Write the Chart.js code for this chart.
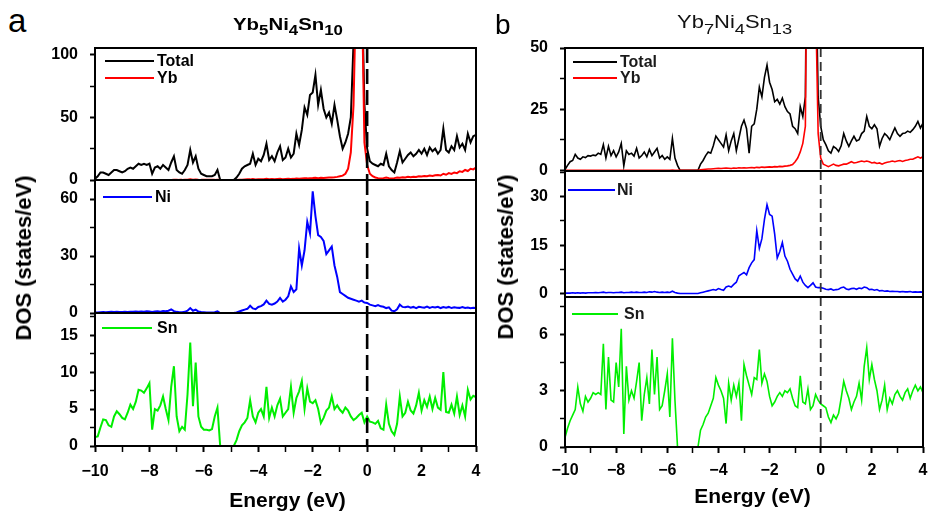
<!DOCTYPE html>
<html>
<head>
<meta charset="utf-8">
<script src="https://cdn.jsdelivr.net/npm/chart.js@4.4.0/dist/chart.umd.min.js"></script>
<style>
  body { margin: 0; background: #fff; width: 929px; height: 511px; position: relative; overflow: hidden;
         font-family: "Liberation Sans", Arial, sans-serif; color: #000; }
  canvas { position: absolute; }
  .txt { position: absolute; white-space: nowrap; line-height: 1; }
  .ln { position: absolute; height: 2px; }
  .lg { position: absolute; white-space: nowrap; line-height: 1; font-weight: bold; font-size: 16px; }
</style>
</head>
<body>
<canvas id="a1"></canvas>
<canvas id="a2"></canvas>
<canvas id="a3"></canvas>
<canvas id="b1"></canvas>
<canvas id="b2"></canvas>
<canvas id="b3"></canvas>

<div class="txt" style="left:8px;top:4px;font-size:33px;">a</div>
<div class="txt" style="left:495px;top:11px;font-size:28px;">b</div>

<div class="txt" style="left:233px;top:15.6px;font-size:17px;font-weight:bold;transform:scaleX(1.2);transform-origin:0 0;">Yb<span style="font-size:14px;vertical-align:-5px;">5</span>Ni<span style="font-size:14px;vertical-align:-5px;">4</span>Sn<span style="font-size:14px;vertical-align:-5px;">10</span></div>
<div class="txt" style="left:677px;top:13px;font-size:18px;color:#111;transform:scaleX(1.22);transform-origin:0 0;">Yb<span style="font-size:15px;vertical-align:-6px;">7</span>Ni<span style="font-size:15px;vertical-align:-6px;">4</span>Sn<span style="font-size:15px;vertical-align:-6px;">13</span></div>

<div class="txt" style="left:23.5px;top:257.5px;font-size:22px;font-weight:bold;transform:translate(-50%,-50%) rotate(-90deg);">DOS (states/eV)</div>
<div class="txt" style="left:506px;top:257px;font-size:22px;font-weight:bold;transform:translate(-50%,-50%) rotate(-90deg);">DOS (states/eV)</div>
<div class="txt" style="left:287.5px;top:489px;font-size:21px;font-weight:bold;transform:translateX(-50%);">Energy (eV)</div>
<div class="txt" style="left:752.5px;top:485px;font-size:21px;font-weight:bold;transform:translateX(-50%);">Energy (eV)</div>

<!-- legends -->
<div class="ln" style="left:105px;top:60px;width:49px;background:#000;"></div>
<div class="lg" style="left:157px;top:53px;">Total</div>
<div class="ln" style="left:105px;top:76.5px;width:49px;background:#ff0000;"></div>
<div class="lg" style="left:157px;top:70px;">Yb</div>
<div class="ln" style="left:103px;top:196px;width:49px;background:#0000ff;"></div>
<div class="lg" style="left:155px;top:189px;">Ni</div>
<div class="ln" style="left:102px;top:326.5px;width:50px;background:#00ee00;"></div>
<div class="lg" style="left:157px;top:320px;">Sn</div>

<div class="ln" style="left:573px;top:61px;width:44px;background:#000;"></div>
<div class="lg" style="left:620px;top:54px;color:#1a1a1a;">Total</div>
<div class="ln" style="left:573px;top:76.5px;width:44px;background:#ff0000;"></div>
<div class="lg" style="left:620px;top:70px;color:#1a1a1a;">Yb</div>
<div class="ln" style="left:568px;top:189px;width:47px;background:#0000ff;"></div>
<div class="lg" style="left:617px;top:182px;color:#1a1a1a;">Ni</div>
<div class="ln" style="left:572px;top:313px;width:46px;background:#00ee00;"></div>
<div class="lg" style="left:624px;top:306px;color:#1a1a1a;">Sn</div>

<script>
// energy grid (eV)
const energy = [
  -10.0,-9.9,-9.8,-9.7,-9.6,-9.5,-9.4,-9.3,-9.2,-9.1,
  -9.0,-8.9,-8.8,-8.7,-8.6,-8.5,-8.4,-8.3,-8.2,-8.1,
  -8.0,-7.9,-7.8,-7.7,-7.6,-7.5,-7.4,-7.3,-7.2,-7.1,
  -7.0,-6.9,-6.8,-6.7,-6.6,-6.5,-6.4,-6.3,-6.2,-6.1,
  -6.0,-5.9,-5.8,-5.7,-5.6,-5.5,-5.4,-5.3,-5.2,-5.1,
  -5.0,-4.9,-4.8,-4.7,-4.6,-4.5,-4.4,-4.3,-4.2,-4.1,
  -4.0,-3.9,-3.8,-3.7,-3.6,-3.5,-3.4,-3.3,-3.2,-3.1,
  -3.0,-2.9,-2.8,-2.7,-2.6,-2.5,-2.4,-2.3,-2.2,-2.1,
  -2.0,-1.9,-1.8,-1.7,-1.6,-1.5,-1.4,-1.3,-1.2,-1.1,
  -1.0,-0.9,-0.8,-0.7,-0.6,-0.5,-0.4,-0.3,-0.2,-0.1,
  0.0,0.1,0.2,0.3,0.4,0.5,0.6,0.7,0.8,0.9,
  1.0,1.1,1.2,1.3,1.4,1.5,1.6,1.7,1.8,1.9,
  2.0,2.1,2.2,2.3,2.4,2.5,2.6,2.7,2.8,2.9,
  3.0,3.1,3.2,3.3,3.4,3.5,3.6,3.7,3.8,3.9,
  4.0
];

// (a) Yb5Ni4Sn10
const totalA = [
  1,3,6,6,5,4,6,8,8,7,
  6,7,9,10,9,11,13,12,13,12,
  13,5,10,11,9,12,10,8,14,19,
  8,6,5,8,12,24,14,19,9,5,
  4,3,3,3,4,8,0,0,0,0,
  0,0,2,5,9,11,12,13,21,12,
  17,15,20,29,16,19,15,22,27,16,
  18,25,18,21,37,28,40,58,52,68,
  70,84,60,72,57,50,54,45,60,48,
  35,25,30,37,50,110,160,160,160,60,
  25,15,13,12,11,13,12,21,11,8,
  6,14,23,14,17,20,22,19,21,24,
  21,25,20,26,23,25,21,24,41,24,
  22,27,24,35,26,29,24,37,30,35,
  36
];
const ybA = [
  0,0,0,0,0,0,0,0,0,0,
  0,0,0,0,0,0,0,0,0,0,
  0,0,0,0,0,0,0,0,0,0.2,
  0.2,0.1,0.1,0.2,0.3,0.5,0.3,0.4,0.2,0.1,
  0.1,0.1,0.1,0.1,0.1,0.2,0,0,0,0,
  0,0,0.1,0.2,0.3,0.4,0.5,0.5,0.7,0.5,
  0.6,0.6,0.7,0.9,0.6,0.7,0.6,0.8,0.9,0.7,
  0.8,0.9,0.8,0.9,1.1,1.0,1.2,1.4,1.3,1.5,
  1.6,1.8,1.5,1.7,1.6,1.8,1.9,2.0,2.2,2.5,
  3,3.5,5,9,22,60,160,160,160,30,
  12,5,3,2,1.5,1.2,1.5,2,1.5,1.2,
  1.5,2,1.8,2.2,2,2.5,2.2,2.6,2.4,3,
  2.8,3.2,3,3.5,3.2,3.8,4,3.6,5,4.2,
  5.5,4.8,6,5.5,7,6.5,8,7.2,9,8.5,
  10
];
const niA = [
  0.3,0.3,0.4,0.5,0.4,0.5,0.6,0.5,0.6,0.5,
  0.5,0.6,0.5,0.7,0.6,0.8,0.7,0.8,0.7,0.9,
  0.8,0.5,0.8,0.9,0.7,1.0,0.9,1.2,1.9,1.0,
  0.6,0.4,0.4,0.6,1.2,2.6,1.2,1.8,0.8,0.5,
  0.4,0.3,0.3,0.3,0.4,0.9,0,0,0,0,
  0,0,0.3,0.8,1.3,1.8,2.2,3.8,2.4,2.0,
  3.2,3.6,4.5,6.5,4.8,4.4,5.0,6.0,7.9,6.0,
  7.0,8.8,14,11,12.5,34,25,33,48,42,
  64,51,41,40,38,31,33,35,25,19,
  11,10,9,8,7.5,7,6.5,6,6.5,5.5,
  5.3,4.4,4,3.6,4.2,3.5,3.3,2.6,3.0,1.2,
  0.9,2.0,4.4,3.2,3.0,3.4,2.8,3.2,2.6,3.3,
  3.0,2.8,3.4,2.7,3.2,2.9,3.3,2.6,3.1,2.8,
  3.2,2.6,3.0,2.8,2.7,3.1,2.6,2.9,2.5,2.7,
  2.6
];
const snA = [
  1.2,1.3,2.5,3.6,3.5,2.8,2.6,4.0,4.7,4.3,
  3.8,3.6,4.5,5.6,5.0,6.0,7.6,7.5,7.2,7.8,
  8.5,2.2,5.0,4.8,5.5,6.7,5.0,3.5,8.0,10.8,
  4.0,2.0,2.6,2.2,7.0,14.0,5.4,11.3,4.0,2.6,
  2.2,2.2,2.1,2.3,4.0,5.2,0,0,0,0,
  0,0,0.8,2.0,2.8,3.2,3.8,6.2,4.0,3.2,
  4.5,5.0,4.0,8.0,3.8,5.2,4.0,5.5,6.4,4.0,
  4.5,5.0,8.0,4.5,6.5,7.4,8.8,5.0,7.8,6.0,
  5.8,6.2,5.0,3.1,3.8,4.8,5.2,6.7,5.0,5.5,
  4.9,4.5,5.2,4.8,4.0,3.5,3.8,4.2,4.5,3.2,
  4.0,3.3,3.2,3.0,3.4,2.4,2.2,5.6,3.0,2.0,
  1.5,3.0,6.7,4.0,4.5,6.0,4.8,4.4,5.5,7.2,
  4.8,6.2,5.3,6.7,5.0,6.5,5.2,4.9,10.0,4.6,
  4.5,5.6,4.4,6.7,4.2,5.5,4.0,7.6,6.3,6.8,
  6.6
];

// (b) Yb7Ni4Sn13
const totalB = [
  0.3,2,3.5,4,6.5,5,4.5,5.5,5.2,6,
  5.8,6.2,6,7,6.5,10.5,5,9.8,6,8,
  5.5,7.5,11,1.8,8,6.5,7,5.8,9,5,
  6,7.5,5.5,8.5,6,7.5,9,5,6,4.5,
  5.5,4.5,13,5,2,0,0,0,0,0,
  0,0,0,2.5,4,6,7.5,7,10,14,
  12.5,11,9.5,14.5,8,12,15,8,13,18,
  20.5,17,7,18,19,25,34,30,38,43,
  36,33,28,29,27,29.5,26,24,23,18,
  17,15,26,22,30,150,150,150,90,30,
  18,12.5,10.5,8,7,9.7,9,7.7,10,15,
  12,9.8,12,13.9,12,12.5,15,16,22,18,
  17,18.6,17,9.8,13,15,14,12.5,15,17.3,
  15,13.9,15,15.2,16,15.5,16.6,18,20,17.3,
  19.3
];
const ybB = [
  0,0,0,0,0,0,0,0,0,0,
  0,0,0,0,0,0,0,0,0,0,
  0,0,0,0,0,0,0,0,0,0,
  0,0,0,0,0,0,0,0,0,0,
  0,0,0.1,0,0,0,0,0,0,0,
  0,0,0,0.2,0.3,0.4,0.5,0.5,0.6,0.7,
  0.8,0.7,0.8,0.9,0.8,0.7,0.9,0.8,1.0,0.9,
  1.0,0.9,1.0,1.1,1.0,1.2,1.1,1.3,1.2,1.3,
  1.4,1.3,1.5,1.4,1.6,1.5,1.7,1.8,2.0,2.3,
  3.5,5,7.5,11,18,150,150,150,70,15,
  5,2.5,2,1.5,2,2.5,2,1.8,2.2,2.5,
  2.5,3,3.5,3,3.2,3.5,3.8,3.5,3.8,3.5,
  3,3.2,2.8,3,2.5,3,3.3,3.5,3.8,3.5,
  3.8,4,3.6,4,4.2,4.5,4.5,5,5.5,5,
  5.5
];
const niB = [
  0.1,0.1,0.1,0.2,0.1,0.2,0.1,0.2,0.1,0.2,
  0.2,0.2,0.3,0.2,0.3,0.4,0.2,0.3,0.3,0.2,
  0.3,0.3,0.4,0.2,0.3,0.3,0.4,0.3,0.4,0.3,
  0.3,0.4,0.3,0.5,0.4,0.6,0.4,0.3,0.4,0.3,
  0.4,0.3,0.7,0.3,0.1,0,0,0,0,0,
  0,0,0,0.2,0.4,0.6,0.8,1.0,1.2,1.0,
  1.5,1.2,1.0,2.0,2.3,2.0,2.8,3.5,5.5,6.0,
  6.5,5.8,8.0,9.5,10.5,19.5,14,17,23,27.5,
  24.5,24,18.4,11,13,15.8,11.6,10,7.5,6,
  4.5,3.8,5.4,3.5,2.5,1.8,2.5,3.3,2.0,1.8,
  1.8,1.6,1.3,1.2,1.4,1.0,1.2,1.3,1.8,2.0,
  1.4,1.2,1.5,1.6,1.3,1.7,1.5,2.0,1.8,1.2,
  1.3,1.0,1.2,0.8,0.9,0.7,0.8,0.6,0.7,0.6,
  0.6,0.5,0.6,0.5,0.5,0.6,0.4,0.5,0.4,0.5,
  0.4
];
const snB = [
  0.5,1.0,1.4,1.7,2.0,3.2,2.3,1.9,2.7,2.4,
  2.6,2.9,2.8,2.9,2.8,5.5,2.0,4.8,2.5,2.4,
  4.5,3.2,6.3,0.7,4.3,2.5,3.0,2.6,3.5,4.5,
  1.4,2.8,3.7,2.3,5.2,2.8,4.8,2.0,2.2,3.0,
  3.9,1.6,5.8,2.5,0,0,0,0,0,0,
  0,0,0,0.9,1.2,1.6,1.8,2.2,2.6,3.7,
  3.3,3.0,2.6,1.25,3.4,2.5,3.3,2.7,3.4,1.4,
  4.4,3.8,3.3,2.8,3.7,3.6,5.2,3.4,3.9,3.5,
  2.7,2.2,2.4,2.7,2.9,2.7,3.0,2.9,3.1,2.6,
  2.2,2.1,3.8,2.4,2.3,3.1,2.0,2.2,2.8,2.5,
  2.3,2.2,2.1,1.6,1.3,1.7,1.5,1.8,2.6,3.5,
  3.0,2.6,2.0,2.4,2.7,3.4,2.5,4.3,5.3,3.6,
  4.4,3.6,3.0,2.0,2.5,3.3,2.0,2.6,2.3,2.8,
  3.0,2.7,2.5,2.9,3.1,2.6,3.0,3.3,3.0,3.2,
  2.9
];

// ticks
const xTicks = [-10,-9,-8,-7,-6,-5,-4,-3,-2,-1,0,1,2,3,4];
const xLabels = [-10,-8,-6,-4,-2,0,2,4];
const yTicksA1 = [0,25,50,75,100],       yLabelsA1 = [0,50,100];
const yTicksA2 = [0,15,30,45,60],        yLabelsA2 = [0,30,60];
const yTicksA3 = [0,2.5,5,7.5,10,12.5,15,17.5], yLabelsA3 = [0,5,10,15];
const yTicksB1 = [0,12.5,25,37.5,50],    yLabelsB1 = [0,25,50];
const yTicksB2 = [0,7.5,15,22.5,30,37.5], yLabelsB2 = [0,15,30];
const yTicksB3 = [0,1.5,3,4.5,6,7.5],    yLabelsB3 = [0,3,6];

const black = '#000000', red = '#ff0000', blue = '#0000ff', green = '#00ee00';
const tickFont = { family: '"Liberation Sans", Arial, sans-serif', weight: 'bold', size: 16 };

function fmt(v) {
  return String(v).replace('-', '\u2212');
}

// frame box + dashed Fermi level line
const framePlugin = {
  id: 'frame',
  afterDatasetsDraw(chart, args, opts) {
    const ctx = chart.ctx, a = chart.chartArea;
    const x0 = chart.scales.x.getPixelForValue(0);
    ctx.save();
    ctx.strokeStyle = opts.dashColor;
    ctx.lineWidth = opts.dashWidth;
    ctx.setLineDash(opts.dash);
    ctx.beginPath();
    ctx.moveTo(x0, a.top);
    ctx.lineTo(x0, a.bottom);
    ctx.stroke();
    ctx.setLineDash([]);
    ctx.strokeStyle = '#000';
    ctx.lineWidth = 2;
    ctx.strokeRect(a.left, a.top, a.right - a.left, a.bottom - a.top);
    ctx.restore();
  }
};

function plot(id, area, sets, yMin, yMax, yTicks, yLabels, showX, look) {
  const yW = 60, padT = 12, padR = 6;
  const padB = showX ? 0 : 12;
  const xH = showX ? 40 : 0;
  const c = document.getElementById(id);
  c.width = yW + (area.r - area.l) + padR;
  c.height = padT + (area.b - area.t) + padB + xH;
  c.style.left = (area.l - yW) + 'px';
  c.style.top = (area.t - padT) + 'px';

  new Chart(c, {
    type: 'line',
    data: {
      datasets: sets.map(s => ({
        data: energy.map((e, i) => ({ x: e, y: s.values[i] })),
        borderColor: s.color,
        borderWidth: look.lw,
        pointRadius: 0,
        tension: 0,
        fill: false,
        order: s.order
      }))
    },
    options: {
      responsive: false,
      animation: false,
      events: [],
      layout: { padding: { top: padT, right: padR, bottom: padB, left: 0 } },
      plugins: {
        legend: { display: false },
        tooltip: { enabled: false },
        frame: { dash: look.dash, dashColor: look.dashColor, dashWidth: look.dashWidth }
      },
      scales: {
        x: {
          type: 'linear', min: -10, max: 4, display: showX,
          afterBuildTicks: s => { s.ticks = xTicks.map(v => ({ value: v })); },
          afterFit: s => { s.height = xH; s.paddingLeft = 0; s.paddingRight = 0; },
          ticks: { callback: v => xLabels.includes(v) ? fmt(v) : '', font: tickFont, color: '#000',
                   padding: look.xPad, maxRotation: 0, autoSkip: false },
          grid: { drawOnChartArea: false, tickLength: 6, tickColor: '#000',
                  tickWidth: ctx => xLabels.includes(ctx.tick.value) ? 2 : 1.5 },
          border: { display: false }
        },
        y: {
          min: yMin, max: yMax,
          afterBuildTicks: s => { s.ticks = yTicks.map(v => ({ value: v })); },
          afterFit: s => { s.width = yW; s.paddingTop = 0; s.paddingBottom = 0; },
          ticks: { callback: v => yLabels.includes(v) ? fmt(v) : '', font: tickFont, color: '#000',
                   padding: 12, autoSkip: false },
          grid: { drawOnChartArea: false, tickLength: 5, tickColor: '#000',
                  tickWidth: ctx => yLabels.includes(ctx.tick.value) ? 2 : 1.5 },
          border: { display: false }
        }
      }
    },
    plugins: [framePlugin]
  });
}

const lookA = { lw: 2, dash: [15, 6], dashColor: '#000', dashWidth: 2.6, xPad: 10 };
const lookB = { lw: 1.6, dash: [9, 5], dashColor: '#333', dashWidth: 1.8, xPad: 8 };

plot('a1', { l: 95, r: 476, t: 48, b: 180 },
  [{ values: totalA, color: black, order: 2 }, { values: ybA, color: red, order: 1 }],
  0, 105.5, yTicksA1, yLabelsA1, false, lookA);
plot('a2', { l: 95, r: 476, t: 180, b: 313 },
  [{ values: niA, color: blue, order: 1 }], 0, 70, yTicksA2, yLabelsA2, false, lookA);
plot('a3', { l: 95, r: 476, t: 313, b: 446 },
  [{ values: snA, color: green, order: 1 }], 0, 18, yTicksA3, yLabelsA3, true, lookA);

plot('b1', { l: 565, r: 923, t: 48, b: 171 },
  [{ values: totalB, color: black, order: 2 }, { values: ybB, color: red, order: 1 }],
  -0.3, 50, yTicksB1, yLabelsB1, false, lookB);
plot('b2', { l: 565, r: 923, t: 171, b: 297 },
  [{ values: niB, color: blue, order: 1 }], -1.1, 38, yTicksB2, yLabelsB2, false, lookB);
plot('b3', { l: 565, r: 923, t: 297, b: 447 },
  [{ values: snB, color: green, order: 1 }], 0, 8, yTicksB3, yLabelsB3, true, lookB);
</script>
</body>
</html>
